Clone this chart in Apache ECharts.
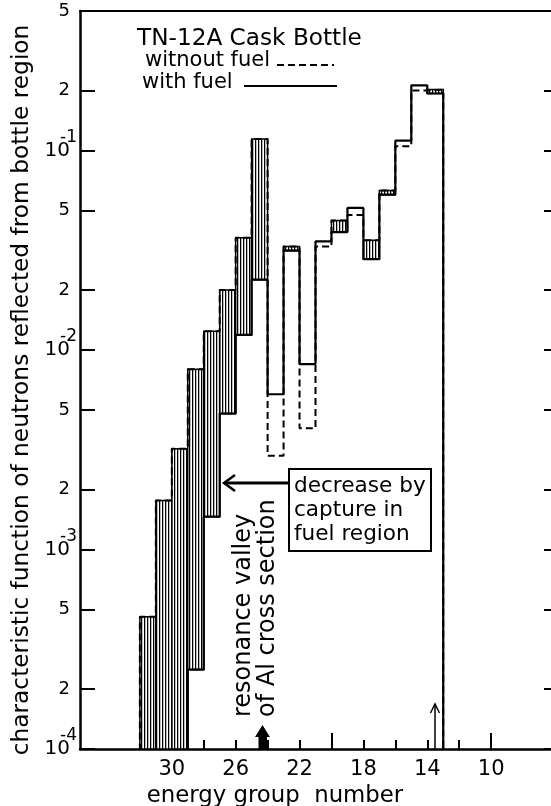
<!DOCTYPE html>
<html>
<head>
<meta charset="utf-8">
<script src="https://cdn.jsdelivr.net/npm/echarts@6/dist/echarts.min.js"></script>
<style>
html, body { margin: 0; background: #fff; }
#chart { width: 551px; height: 806px; }
</style>
</head>
<body>
<div id="chart"></div>
<script>
// energy groups, each step covers g .. g+1 on the group axis
var groups = [31, 30, 29, 28, 27, 26, 25, 24, 23, 22, 21, 20, 19, 18, 17, 16, 15, 14, 13];
var withoutFuel = [4.6e-4, 1.76e-3, 3.2e-3, 8.0e-3, 1.24e-2, 2.0e-2, 3.65e-2, 1.14e-1, 2.95e-3, 3.3e-2,
                   4.05e-3, 3.3e-2, 4.46e-2, 4.75e-2, 3.55e-2, 6.3e-2, 1.05e-1, 2.0e-1, 2.02e-1];
var withFuel = [5e-5, 5e-5, 5e-5, 2.5e-4, 1.46e-3, 4.8e-3, 1.19e-2, 2.25e-2, 6.0e-3, 3.15e-2,
                8.5e-3, 3.5e-2, 3.9e-2, 5.15e-2, 2.85e-2, 6.0e-2, 1.12e-1, 2.12e-1, 1.93e-1];
var yTicks = [1e-4, 2e-4, 5e-4, 1e-3, 2e-3, 5e-3, 1e-2, 2e-2, 5e-2, 1e-1, 2e-1, 5e-1];
var yDecades = [1e-4, 1e-3, 1e-2, 1e-1];
var xTicks = [30, 28, 26, 24, 22, 20, 18, 16, 14, 12, 10];
var xMajorTicks = [20, 10];
var xLabels = [30, 26, 22, 18, 14, 10];

var FONT = 'DejaVu Sans';
var Y_MIN = 1e-4, FLOOR = 1e-5;
var X_MIN = 6.25, X_MAX = 35.75;

function steps(vals) {
  var pts = [[groups[0] + 1, FLOOR]];
  groups.forEach(function (g, i) {
    pts.push([g + 1, vals[i]], [g, vals[i]]);
  });
  pts.push([groups[groups.length - 1], FLOOR]);
  return pts;
}

// groups where fuel lowers the reflected flux -> hatched
var hatchData = [];
groups.forEach(function (g, i) {
  if (withoutFuel[i] > withFuel[i]) hatchData.push([g, withoutFuel[i], withFuel[i]]);
});

var hatchCanvas = document.createElement('canvas');
hatchCanvas.width = 3; hatchCanvas.height = 4;
var hc = hatchCanvas.getContext('2d');
hc.fillStyle = '#fff'; hc.fillRect(0, 0, 3, 4);
hc.fillStyle = '#bbb'; hc.fillRect(1, 0, 1, 4);
hc.fillStyle = '#000'; hc.fillRect(0, 0, 1, 4);

function mantissa(v) {
  var e = Math.floor(Math.log10(v) + 1e-9);
  return Math.round(v / Math.pow(10, e));
}

var myChart = echarts.init(document.getElementById('chart'));
myChart.setOption({
  backgroundColor: '#fff',
  textStyle: { fontFamily: FONT, color: '#000' },
  animation: false,
  grid: { left: 80, right: 0, top: 11, bottom: 57, outerBoundsMode: 'none', containLabel: false },
  xAxis: [
    {
      type: 'value', min: X_MIN, max: X_MAX, inverse: true,
      axisLine: { lineStyle: { color: '#000', width: 2.5 } },
      axisTick: { inside: true, length: 9, customValues: xTicks, lineStyle: { color: '#000', width: 2 } },
      axisLabel: { customValues: xLabels, fontSize: 21, color: '#000', margin: 10, fontFamily: FONT },
      splitLine: { show: false },
      name: 'energy group  number', nameLocation: 'middle', nameGap: 32,
      nameTextStyle: { fontSize: 22.8, color: '#000', fontFamily: FONT, padding: [0, 81, 0, 0] }
    },
    {
      type: 'value', min: X_MIN, max: X_MAX, inverse: true, position: 'bottom',
      axisLine: { show: false },
      axisTick: { inside: true, length: 16, customValues: xMajorTicks, lineStyle: { color: '#000', width: 2 } },
      axisLabel: { show: false },
      splitLine: { show: false }
    },
    {
      // top frame line
      type: 'value', min: X_MIN, max: X_MAX, inverse: true, position: 'top',
      axisLine: { lineStyle: { color: '#000', width: 2 } },
      axisTick: { show: false }, axisLabel: { show: false }, splitLine: { show: false }
    }
  ],
  yAxis: [
    {
      type: 'log', logBase: 10, min: Y_MIN, max: 0.5,
      axisLine: { show: true, lineStyle: { color: '#000', width: 2.5 } },
      axisTick: { show: true, inside: true, length: 15, customValues: yTicks, lineStyle: { color: '#000', width: 2 } },
      axisLabel: {
        customValues: yTicks, margin: 10, color: '#000',
        formatter: function (v) {
          var m = mantissa(v);
          return m === 1 ? '{b|10}' : '{d|' + m + '}';
        },
        rich: {
          b: { fontSize: 20, fontFamily: FONT, color: '#000' },
          d: { fontSize: 18, fontFamily: FONT, color: '#000' }
        }
      },
      splitLine: { show: false },
      name: 'characteristic function of neutrons reflected from bottle region',
      nameLocation: 'middle', nameGap: 40,
      nameTextStyle: { fontSize: 23.3, color: '#000', fontFamily: FONT, padding: [0, 20, 0, 0] }
    },
    {
      // right-hand ticks, the axis line itself lies just outside the picture
      type: 'log', logBase: 10, min: Y_MIN, max: 0.5, position: 'right',
      axisLine: { show: false },
      axisTick: { show: true, inside: true, length: 7, customValues: yTicks, lineStyle: { color: '#000', width: 2 } },
      axisLabel: { show: false },
      splitLine: { show: false }
    },
    {
      // exponents written above the "10" labels
      type: 'log', logBase: 10, min: Y_MIN, max: 0.5, position: 'left',
      axisLine: { show: false }, axisTick: { show: false }, splitLine: { show: false },
      axisLabel: {
        customValues: yDecades, margin: 3, color: '#000',
        formatter: function (v) { return '{s|' + Math.round(Math.log10(v)) + '}'; },
        rich: { s: { fontSize: 17, fontFamily: FONT, color: '#000', padding: [0, 0, 26, 0] } }
      }
    }
  ],
  series: [
    {
      type: 'custom', name: 'hatch', xAxisIndex: 0, yAxisIndex: 0, z: 2,
      data: hatchData,
      renderItem: function (params, api) {
        var g = api.value(0);
        var hi = api.value(1);
        var lo = Math.max(api.value(2), Y_MIN);
        var p1 = api.coord([g + 1, hi]);
        var p2 = api.coord([g, lo]);
        return {
          type: 'rect',
          shape: { x: p1[0], y: p1[1], width: p2[0] - p1[0], height: p2[1] - p1[1] },
          style: { fill: { image: hatchCanvas, repeat: 'repeat' }, stroke: '#000', lineWidth: 1.5 }
        };
      }
    },
    {
      type: 'line', name: 'witnout fuel', xAxisIndex: 0, yAxisIndex: 0, z: 3,
      data: steps(withoutFuel), showSymbol: false, symbol: 'none', clip: true,
      lineStyle: { color: '#000', width: 2, type: [7, 4] }
    },
    {
      type: 'line', name: 'with fuel', xAxisIndex: 0, yAxisIndex: 0, z: 4,
      data: steps(withFuel), showSymbol: false, symbol: 'none', clip: true,
      lineStyle: { color: '#000', width: 2.2 }
    }
  ],
  graphic: [
    { type: 'text', left: 137, top: 27, style: { text: 'TN-12A Cask Bottle', font: '23.2px "DejaVu Sans"', fill: '#000' } },
    { type: 'text', left: 145, top: 50, style: { text: 'witnout fuel', font: '21px "DejaVu Sans"', fill: '#000' } },
    { type: 'line', shape: { x1: 277, y1: 65, x2: 334, y2: 65 }, style: { stroke: '#000', lineWidth: 2, lineDash: [7, 4] } },
    { type: 'text', left: 142, top: 72, style: { text: 'with fuel', font: '21px "DejaVu Sans"', fill: '#000' } },
    { type: 'line', shape: { x1: 244, y1: 86, x2: 337, y2: 86 }, style: { stroke: '#000', lineWidth: 2 } },

    { type: 'rect', shape: { x: 289, y: 469, width: 142, height: 82 }, style: { fill: '#fff', stroke: '#000', lineWidth: 2 }, z: 10 },
    { type: 'text', left: 294, top: 474, z: 11, style: { text: 'decrease by\ncapture in\nfuel region', font: '21.6px "DejaVu Sans"', lineHeight: 24, fill: '#000' } },
    { type: 'line', shape: { x1: 289, y1: 483, x2: 224, y2: 483 }, style: { stroke: '#000', lineWidth: 3 }, z: 10 },
    { type: 'polyline', shape: { points: [[235, 475], [224, 483], [235, 491]] }, style: { stroke: '#000', lineWidth: 2.5, fill: null }, z: 10 },

    { type: 'text', x: 244, y: 717, rotation: Math.PI / 2, z: 10,
      style: { text: 'resonance valley', font: '24px "DejaVu Sans"', fill: '#000', align: 'left', verticalAlign: 'middle' } },
    { type: 'text', x: 268, y: 717, rotation: Math.PI / 2, z: 10,
      style: { text: 'of Al cross section', font: '24px "DejaVu Sans"', fill: '#000', align: 'left', verticalAlign: 'middle' } },
    { type: 'polygon', z: 10, shape: { points: [[262.5, 725], [255, 737], [258.5, 737], [258.5, 750], [267, 750], [267, 737], [270, 737]] }, style: { fill: '#000' } },
    { type: 'line', z: 10, shape: { x1: 435, y1: 750, x2: 435, y2: 704 }, style: { stroke: '#000', lineWidth: 1.5 } },
    { type: 'polyline', z: 10, shape: { points: [[430.5, 713], [435, 704], [439.5, 713]] }, style: { stroke: '#000', lineWidth: 1.5, fill: null } }
  ]
});
</script>
</body>
</html>
